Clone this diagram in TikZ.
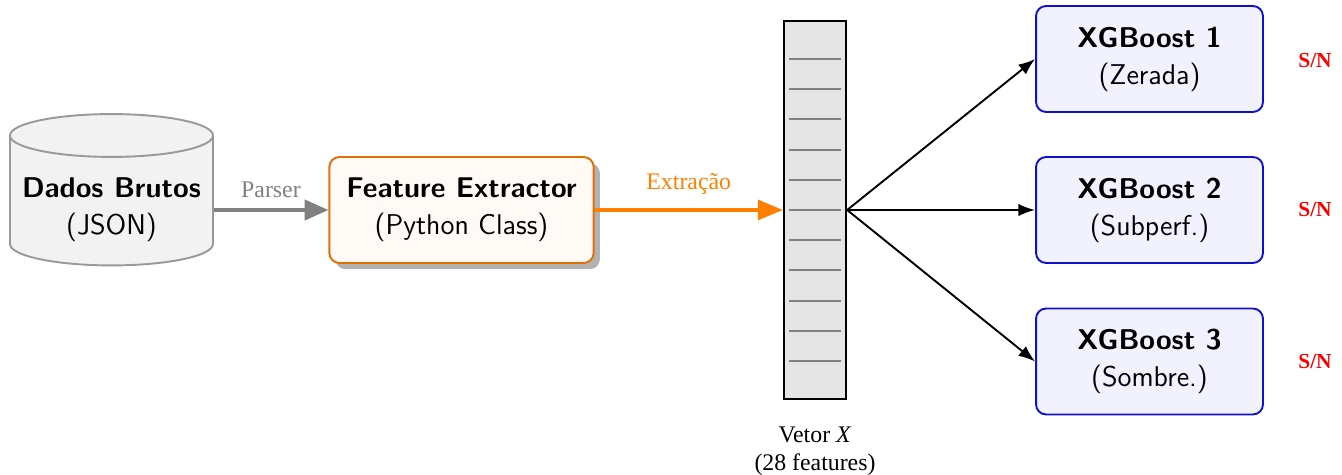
\documentclass[tikz,border=0pt]{standalone}
\usepackage{fontspec}
\newfontfamily\tms{Liberation Serif}
\usetikzlibrary{arrows.meta,shadows}
\definecolor{feorange}{HTML}{E07000}
\definecolor{xgblue}{HTML}{1010CC}
\begin{document}
\begin{tikzpicture}[x=0.42pt,y=-0.42pt,
  box/.style={rounded corners=4.2pt, align=center, font=\sffamily\large, inner sep=0pt, minimum height=44.5pt, line width=0.8pt},
  febox/.style={box, draw=feorange, fill=orange!4, minimum width=111pt,
     drop shadow={shadow xshift=2.6pt, shadow yshift=-2.6pt, fill=black!30, opacity=1}},
  xgbox/.style={box, draw=xgblue, fill=blue!5, minimum width=95.3pt},
  vecbox/.style={draw=black, line width=1pt, fill=black!10, minimum width=26pt, minimum height=158.8pt, inner sep=0pt},
  lbl/.style={font=\tms},
  snlbl/.style={font=\tms\small\bfseries, text=red},
  blk/.style={draw=black, line width=0.8pt, -{Latex[length=7pt,width=5.2pt]}},
]
\useasboundingbox (0,0) rectangle (1342,475);

% cylinder
\draw[draw=black!40, fill=black!5, line width=0.8pt]
  (10,135.5) -- (10,244) arc[start angle=180, end angle=360, x radius=42.63pt, y radius=9pt]
  -- (213,135.5) arc[start angle=0, end angle=180, x radius=42.63pt, y radius=9pt] -- cycle;
\draw[draw=black!40, line width=0.8pt] (10,135.5) arc[start angle=180, end angle=360, x radius=42.63pt, y radius=9pt];
\node[align=center, font=\sffamily\large, inner sep=0pt, minimum width=85.3pt, minimum height=40pt] (raw) at (111.5,210) {\textbf{Dados Brutos}\\[1.5pt](JSON)};

\node[febox] (fe) at (461.5,210) {\textbf{Feature Extractor}\\[1.5pt](Python Class)};

\node[vecbox] (vec) at (815,210) {};
\foreach \i in {0,...,10}
  \draw[black!50, line width=0.8pt] (789,59+30.2*\i) -- (841,59+30.2*\i);
\node[lbl, align=center, anchor=north, inner sep=0pt] (veclbl) at (815,426) {Vetor \textit{X}\\(28 features)};

\node[xgbox] (x1) at (1149.5,59) {\textbf{XGBoost 1}\\[1.5pt](Zerada)};
\node[xgbox] (x2) at (1149.5,210) {\textbf{XGBoost 2}\\[1.5pt](Subperf.)};
\node[xgbox] (x3) at (1149.5,361.5) {\textbf{XGBoost 3}\\[1.5pt](Sombre.)};

\node[snlbl] (s1) at (1315,61) {S/N};
\node[snlbl] (s2) at (1315,210) {S/N};
\node[snlbl] (s3) at (1315,362) {S/N};

\draw[draw=black!50, line width=1.7pt, -{Triangle[length=10pt,width=8.4pt]}] (raw.east) -- node[lbl, text=black!50, above=1pt] {Parser} (fe.west);
\draw[draw=orange, line width=1.3pt, -{Triangle[length=10.5pt,width=8.4pt]}] (fe.east) -- node[lbl, text=orange, above=2.5pt] {Extração} (vec.west);

\draw[blk] (vec.east) -- (x1.west);
\draw[blk] (vec.east) -- (x2.west);
\draw[blk] (vec.east) -- (x3.west);
\end{tikzpicture}
\end{document}
